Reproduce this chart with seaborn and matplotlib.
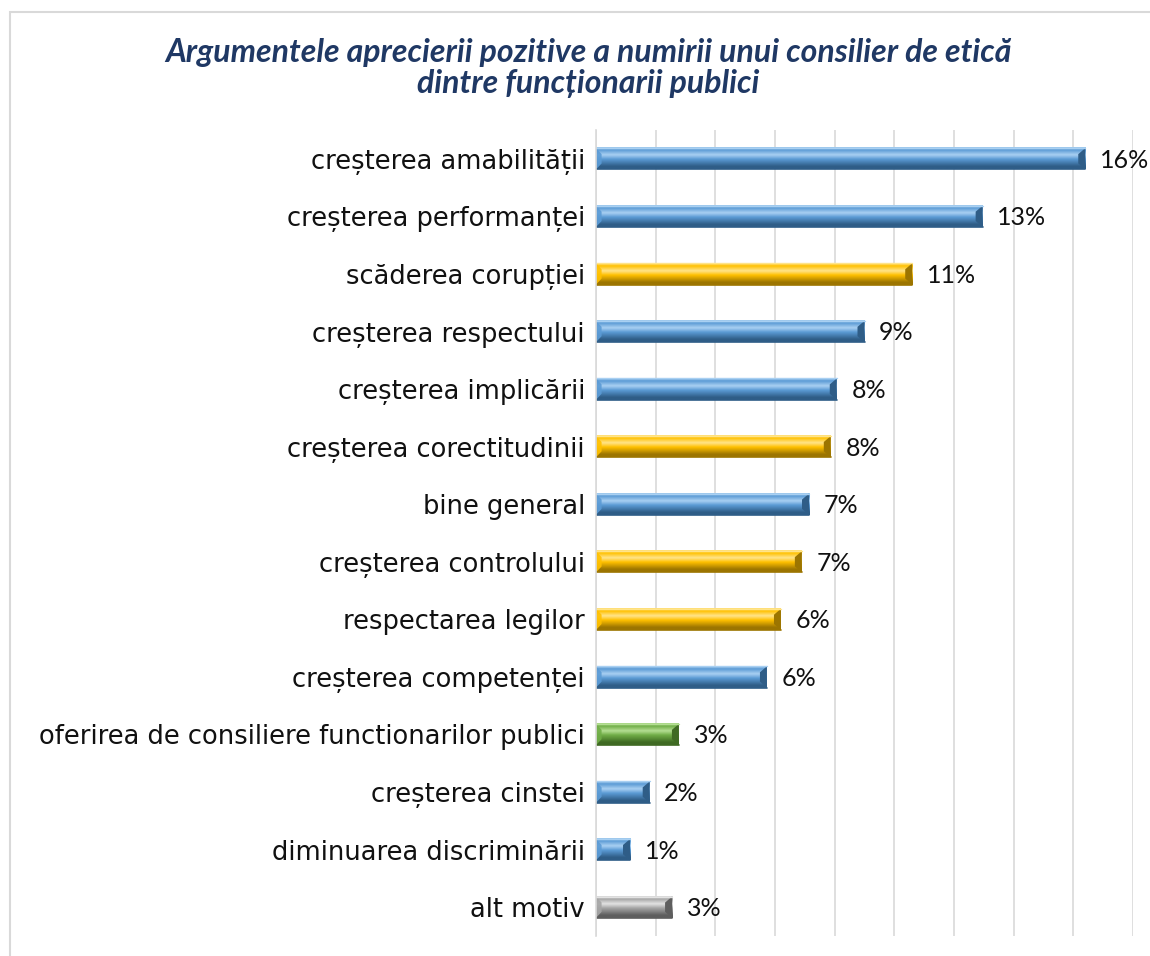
import numpy as np
import pandas as pd
import matplotlib
matplotlib.use("Agg")
import matplotlib.pyplot as plt
from matplotlib.colors import LinearSegmentedColormap
from matplotlib.patches import Polygon, Rectangle
import seaborn as sns

categories = [
    "creșterea amabilității",
    "creșterea performanței",
    "scăderea corupției",
    "creșterea respectului",
    "creșterea implicării",
    "creșterea corectitudinii",
    "bine general",
    "creșterea controlului",
    "respectarea legilor",
    "creșterea competenței",
    "oferirea de consiliere functionarilor publici",
    "creșterea cinstei",
    "diminuarea discriminării",
    "alt motiv",
]
values = [16.4, 12.96, 10.6, 9.0, 8.07, 7.87, 7.14, 6.9, 6.2, 5.73, 2.78, 1.8, 1.14, 2.55]
groups = ["blue", "blue", "gold", "blue", "blue", "gold", "blue", "gold", "gold",
          "blue", "green", "blue", "blue", "gray"]

title_text = "Argumentele aprecierii pozitive a numirii unui consilier de etică\ndintre funcționarii publici"

# base, dark edge, light highlight for each colour group
shades = {
    "blue": ("#5B9BD5", "#2F5D87", "#A9D0F2"),
    "gold": ("#FFC000", "#9C7500", "#FFE48A"),
    "green": ("#70AD47", "#3F6A23", "#B4DE92"),
    "gray": ("#A5A5A5", "#5E5E5E", "#E2E2E2"),
}

df = pd.DataFrame({"cat": categories, "val": values, "grp": groups})

sns.set_style("white")
plt.rcParams["font.family"] = ["DejaVu Sans"]

fig = plt.figure(figsize=(11.5, 9.56), dpi=100)
ax = fig.add_axes([596 / 1150, 1 - 936 / 956, (1133 - 596) / 1150, (936 - 130) / 956])

palette = {c: shades[g][0] for c, g in zip(categories, groups)}
sns.barplot(data=df, x="val", y="cat", hue="cat", palette=palette, orient="h",
            width=0.37, legend=False, ax=ax, saturation=1, edgecolor="none")

ax.set_xlim(0, 18)
ax.set_ylim(len(categories) - 0.5, -0.5)
ax.set_xticks(np.arange(0, 19, 2))
ax.set_xticklabels([])
ax.grid(axis="x", color="#D9D9D9", linewidth=1.2)
ax.set_axisbelow(True)
for s in ["top", "right", "bottom"]:
    ax.spines[s].set_visible(False)
ax.spines["left"].set_color("#D9D9D9")
ax.spines["left"].set_linewidth(1.2)
ax.tick_params(axis="both", length=0)
ax.tick_params(axis="y", pad=8, labelsize=18.5, labelcolor="#111111")
ax.set_xlabel("")
ax.set_ylabel("")

# bevel effect: vertical gradient plus shaded end caps
fig.canvas.draw()
px_x = (ax.get_xlim()[1] - ax.get_xlim()[0]) / ax.get_window_extent().width
px_y = abs(ax.get_ylim()[1] - ax.get_ylim()[0]) / ax.get_window_extent().height
bevel_x = 7 * px_x
bevel_y = 6 * px_y

bars = sorted(ax.patches, key=lambda p: p.get_y())
for p, g, v in zip(bars, groups, values):
    base, dark, light = shades[g]
    x0, y0, w, h = p.get_x(), p.get_y(), p.get_width(), p.get_height()
    cmap = LinearSegmentedColormap.from_list(
        "bev", [(0, light), (0.12, base), (0.35, light), (0.55, base), (0.88, dark), (1, dark)])
    grad = np.linspace(0, 1, 64).reshape(-1, 1)
    ax.imshow(grad, cmap=cmap, aspect="auto", extent=(x0, x0 + w, y0 + h, y0),
              zorder=p.get_zorder() + 0.1, interpolation="bilinear")
    bx = min(bevel_x, w / 3)
    # right cap
    ax.add_patch(Polygon([(x0 + w - bx, y0 + bevel_y), (x0 + w, y0), (x0 + w, y0 + h),
                          (x0 + w - bx, y0 + h - bevel_y)], closed=True,
                         facecolor=dark, edgecolor="none", zorder=p.get_zorder() + 0.2))
    # left cap
    ax.add_patch(Polygon([(x0, y0), (x0 + bx * 0.8, y0 + bevel_y), (x0 + bx * 0.8, y0 + h - bevel_y),
                          (x0, y0 + h)], closed=True,
                         facecolor=base, edgecolor="none", alpha=0.9, zorder=p.get_zorder() + 0.2))
    # top and bottom edges
    ax.plot([x0, x0 + w], [y0, y0], color=light, lw=1.0, zorder=p.get_zorder() + 0.3)
    ax.plot([x0, x0 + w], [y0 + h, y0 + h], color=dark, lw=1.2, zorder=p.get_zorder() + 0.3)
    ax.annotate(f"{v:.0f}%", xy=(x0 + w, y0 + h / 2), xytext=(10.5, -1),
                textcoords="offset points", va="center", ha="left",
                fontsize=18, family=["Lato", "DejaVu Sans"], color="#111111")

fig.text(588 / 1150, 1 - 68 / 956, title_text, ha="center", va="center",
         fontsize=23, fontweight="bold", fontstyle="italic", color="#1F3864",
         family=["Lato", "DejaVu Sans"], linespacing=1.08)

fig.patches.append(Rectangle((10 / 1150, -0.05), 1.2, 1 - 12 / 956 + 0.05,
                             transform=fig.transFigure, fill=False,
                             edgecolor="#D9D9D9", linewidth=1.5, zorder=-1))

fig.savefig("out.png", dpi=100, facecolor="white")
